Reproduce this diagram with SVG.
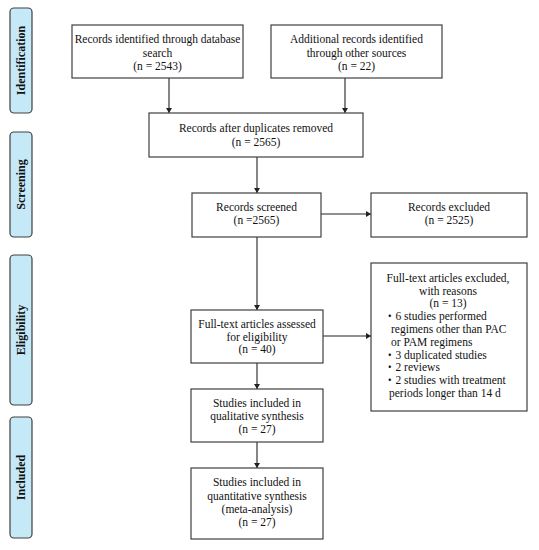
<svg xmlns="http://www.w3.org/2000/svg" width="539" height="550" viewBox="0 0 539 550">
<defs>
<style>
.box{fill:#fff;stroke:#404040;stroke-width:1.2}
.lab{fill:#c6e9f8;stroke:#404040;stroke-width:1.2}
.t{font-family:"Liberation Serif","Times New Roman",serif;font-size:11.5px;fill:#111;text-anchor:middle}
.tl{font-family:"Liberation Serif","Times New Roman","Noto Sans CJK JP",serif;font-size:11.5px;fill:#111}
.lt{font-family:"Liberation Serif","Times New Roman",serif;font-size:12px;font-weight:bold;fill:#111;text-anchor:middle}
.c{stroke:#222;stroke-width:1.1;fill:none;marker-end:url(#ah)}
</style>
<marker id="ah" markerWidth="6" markerHeight="6" refX="5" refY="3" orient="auto" markerUnits="userSpaceOnUse">
<path d="M0,0 L5,3 L0,6 Z" fill="#222"/>
</marker>
</defs>
<rect width="539" height="550" fill="#fff"/>

<g id="label-identification">
<rect class="lab" x="10" y="8" width="22" height="105" rx="4"/>
<text class="lt" transform="translate(25,60.5) rotate(-90)">Identification</text>
</g>
<g id="label-screening">
<rect class="lab" x="10" y="132" width="22" height="105" rx="4"/>
<text class="lt" transform="translate(25,184.5) rotate(-90)">Screening</text>
</g>
<g id="label-eligibility">
<rect class="lab" x="10" y="255" width="22" height="150" rx="4"/>
<text class="lt" transform="translate(25,330) rotate(-90)">Eligibility</text>
</g>
<g id="label-included">
<rect class="lab" x="10" y="417" width="22" height="121" rx="4"/>
<text class="lt" transform="translate(25,477.5) rotate(-90)">Included</text>
</g>

<g id="connectors">
<path class="c" d="M169,78 V113"/>
<path class="c" d="M345,78 V113"/>
<path class="c" d="M257,157 V193"/>
<path class="c" d="M321,214 H371"/>
<path class="c" d="M257,237 V310"/>
<path class="c" d="M323,336 H371"/>
<path class="c" d="M257,363 V389"/>
<path class="c" d="M257,442 V468"/>
</g>

<g id="n-database">
<rect class="box" x="72" y="25" width="171" height="53"/>
<text class="t" x="157.5" y="43">Records identified through database</text>
<text class="t" x="157.5" y="56.5">search</text>
<text class="t" x="157.5" y="70">(n = 2543)</text>
</g>
<g id="n-other">
<rect class="box" x="271" y="25" width="171" height="53"/>
<text class="t" x="356.5" y="43">Additional records identified</text>
<text class="t" x="356.5" y="56.5">through other sources</text>
<text class="t" x="356.5" y="70">(n = 22)</text>
</g>
<g id="n-duplicates">
<rect class="box" x="149" y="113" width="214" height="44"/>
<text class="t" x="256" y="132">Records after duplicates removed</text>
<text class="t" x="256" y="146">(n = 2565)</text>
</g>
<g id="n-screened">
<rect class="box" x="192" y="193" width="129" height="44"/>
<text class="t" x="256.5" y="211">Records screened</text>
<text class="t" x="256.5" y="224">(n =2565)</text>
</g>
<g id="n-excluded">
<rect class="box" x="371" y="193" width="156" height="44"/>
<text class="t" x="449" y="211">Records excluded</text>
<text class="t" x="449" y="224">(n = 2525)</text>
</g>
<g id="n-fulltext">
<rect class="box" x="191" y="310" width="132" height="53"/>
<text class="t" x="257" y="328">Full-text articles assessed</text>
<text class="t" x="257" y="341">for eligibility</text>
<text class="t" x="257" y="353">(n = 40)</text>
</g>
<g id="n-fulltext-excluded">
<rect class="box" x="371" y="263" width="156" height="148"/>
<text class="t" x="448" y="282">Full-text articles excluded,</text>
<text class="t" x="448" y="294.5">with reasons</text>
<text class="t" x="448" y="307">(n = 13)</text>
<text class="tl" x="384" y="320">・6 studies performed</text>
<text class="tl" x="391" y="333">regimens other than PAC</text>
<text class="tl" x="391" y="345.5">or PAM regimens</text>
<text class="tl" x="384" y="358.5">・3 duplicated studies</text>
<text class="tl" x="384" y="371">・2 reviews</text>
<text class="tl" x="384" y="384">・2 studies with treatment</text>
<text class="tl" x="389" y="396.5">periods longer than 14 d</text>
</g>
<g id="n-qualitative">
<rect class="box" x="191" y="389" width="132" height="53"/>
<text class="t" x="257" y="407">Studies included in</text>
<text class="t" x="257" y="420">qualitative synthesis</text>
<text class="t" x="257" y="433">(n = 27)</text>
</g>
<g id="n-quantitative">
<rect class="box" x="191" y="468" width="132" height="71"/>
<text class="t" x="257" y="486">Studies included in</text>
<text class="t" x="257" y="499.5">quantitative synthesis</text>
<text class="t" x="257" y="512.5">(meta-analysis)</text>
<text class="t" x="257" y="526">(n = 27)</text>
</g>
</svg>
